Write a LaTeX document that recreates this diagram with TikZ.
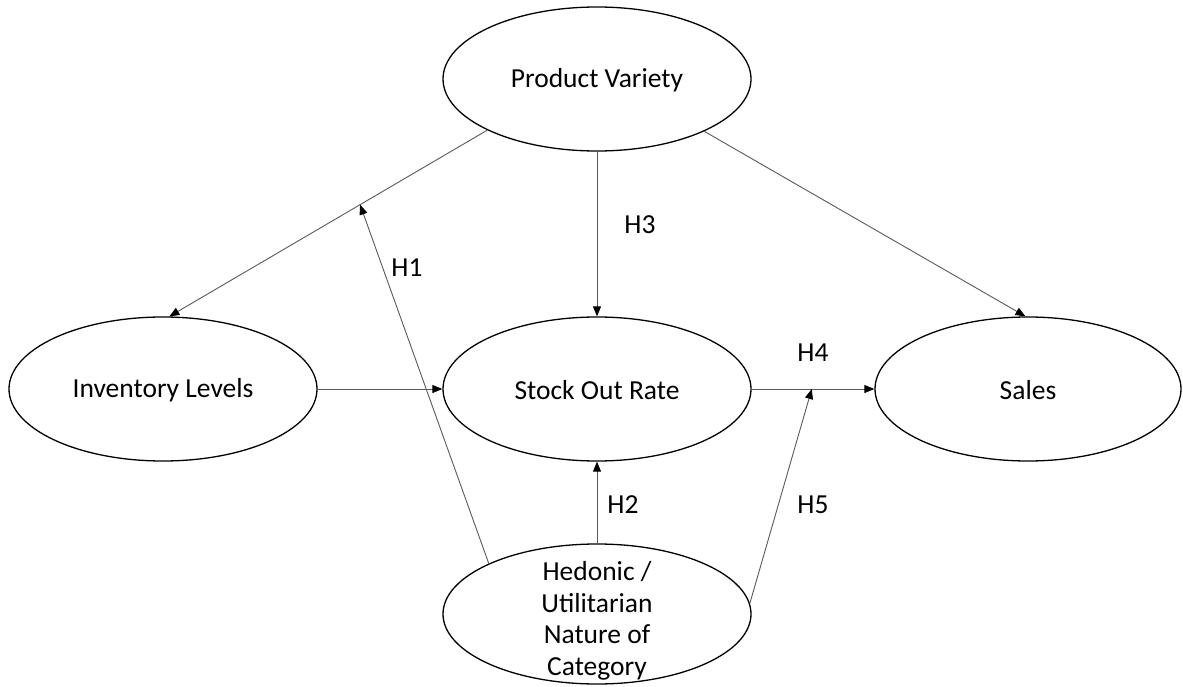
\documentclass[tikz,border=0pt]{standalone}
\usepackage{fontspec}
\setmainfont{Carlito}
\usetikzlibrary{shapes.geometric,arrows.meta}
\tikzset{
  construct/.style={ellipse, draw=black, line width=1.3pt, inner sep=0pt,
    minimum width=308pt, minimum height=144pt},
  conn/.style={draw=black!65, line width=0.9pt,
    -{Triangle[length=10pt,width=8pt,fill=black,color=black]}},
  lbl/.style={inner sep=0pt, font=\fontsize{27.5}{32}\selectfont},
  ctext/.style={inner sep=0pt, align=center, font=\fontsize{27.5}{31.5}\selectfont}
}
\begin{document}
\begin{tikzpicture}[x=1pt,y=-1pt]
\useasboundingbox (0,0) rectangle (1183,687);
\node[construct] (pv) at (597,79) {};
\node[ctext] (pvt) at (597,80) {Product Variety};
\node[construct] (inv) at (163,389) {};
\node[ctext] (invt) at (163,390) {Inventory Levels};
\node[construct] (sor) at (597,389) {};
\node[ctext] (sort) at (597,390) {Stock Out Rate};
\node[construct, minimum width=306pt] (sales) at (1028,389) {};
\node[ctext] (salest) at (1028,390) {Sales};
\node[construct, minimum height=140pt] (hed) at (597,614) {};
\node[ctext] (hedt) at (597,621) {Hedonic /\\Utilitarian\\Nature of\\Category};

\draw[conn] (pv.205) -- coordinate[pos=0.40] (h1end) (inv.85);
\draw[conn] (pv.south) -- (sor.north);
\draw[conn] (pv.334.7) -- (sales.92.5);
\draw[conn] (inv.east) -- (sor.west);
\draw[conn] (sor.east) -- coordinate[pos=0.49] (h5end) (sales.west);
\draw[conn] (hed.north) -- (sor.south);
\draw[conn] (hed.155.6) -- (h1end);
\draw[conn] (hed.4) -- (h5end);

\node[lbl] (h1) at (407,268) {H1};
\node[lbl] (h2) at (623,505) {H2};
\node[lbl] (h3) at (640,225) {H3};
\node[lbl] (h4) at (813,353) {H4};
\node[lbl] (h5) at (813,505) {H5};
\end{tikzpicture}
\end{document}
